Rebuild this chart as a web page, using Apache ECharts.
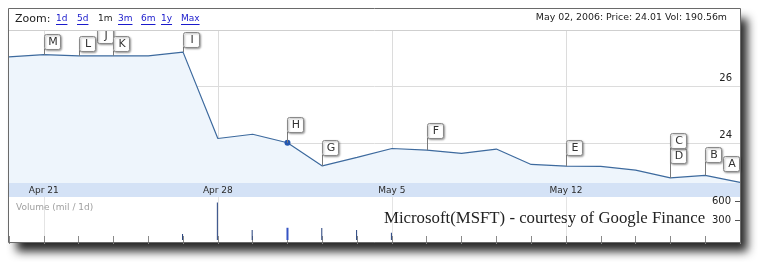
<!DOCTYPE html>
<html><head><meta charset="utf-8">
<script src="https://cdn.jsdelivr.net/npm/echarts@6/dist/echarts.min.js"></script>
<style>html,body{margin:0;padding:0;background:#fff;}#c{width:766px;height:268px;}</style>
</head><body><div id="c"></div>
<script>
// ---- data ----
const dates = ['2006-04-20','2006-04-21','2006-04-24','2006-04-25','2006-04-26','2006-04-27','2006-04-28',
  '2006-05-01','2006-05-02','2006-05-03','2006-05-04','2006-05-05','2006-05-08','2006-05-09','2006-05-10',
  '2006-05-11','2006-05-12','2006-05-15','2006-05-16','2006-05-17','2006-05-18','2006-05-19'];
const prices = [27.02,27.10,27.06,27.06,27.06,27.19,24.16,24.31,24.01,23.20,23.50,23.81,23.75,23.64,23.79,
  23.25,23.19,23.18,23.05,22.78,22.87,22.62];
const volumes = [null,null,null,null,null,94,583,156,190.56,187,156,114,null,null,null,null,null,null,null,null,null,null];
const priceTicks = [24, 26];
const volumeTicks = [300, 600];
const xLabelDays = ['Apr 21','Apr 28','May 5','May 12'];
const flagLetters = ['M','J','L','K','I','H','G','F','E','D','C','B','A'];
const flagDays    = [1,  2,  2,  3,  5,  8,  9,  12, 16, 19, 19, 20, 21];
const selectedDay = 8;
const zoomOptions = ['1d','5d','1m','3m','6m','1y','Max'];
const activeZoom = '1m';
const monthNames = ['Jan','Feb','Mar','Apr','May','Jun','Jul','Aug','Sep','Oct','Nov','Dec'];

// ---- layout / style (not data) ----
const flagLayout = {M:{stem:6},J:{stem:13,dx:18},L:{stem:5},K:{stem:5},I:{stem:5},H:{stem:11},G:{stem:11},
  F:{stem:12},E:{stem:11},D:{stem:15},C:{stem:30},B:{stem:13},A:{stem:11,dx:-17}};
const zoomX = [56,77,98,118,141,161,181];

const cats = dates.map(d => { const p = d.split('-'); return monthNames[+p[1]-1] + ' ' + (+p[2]); });
const sel = dates[selectedDay].split('-');
const headerText = monthNames[+sel[1]-1] + ' ' + sel[2] + ', ' + sel[0] + ': Price: ' + prices[selectedDay].toFixed(2) +
  ' Vol: ' + volumes[selectedDay].toFixed(2) + 'm';

const LEFT = 9, RIGHT = 26;
const weekly = (i) => xLabelDays.indexOf(cats[i]) >= 0;

const ctx = document.createElement('canvas').getContext('2d');
ctx.font = '9px "DejaVu Sans"';

const graphics = [
  {type:'rect', z:-5, shape:{x:8.5,y:8.5,width:732,height:234}, style:{fill:'#fff',shadowBlur:9,shadowOffsetX:7,shadowOffsetY:9,shadowColor:'rgba(0,0,0,0.85)'}},
  {type:'rect', z:100, shape:{x:9,y:9,width:731,height:21}, style:{fill:'#fff'}},
  {type:'line', z:100, shape:{x1:9,y1:30.5,x2:740,y2:30.5}, style:{stroke:'#cfcfcf',lineWidth:1}},
  {type:'text', z:101, style:{text:'Zoom:', x:15, y:19, font:'11px "DejaVu Sans"', fill:'#222', textVerticalAlign:'middle'}},
  {type:'text', z:101, style:{text:headerText, x:727, y:18, font:'9.4px "DejaVu Sans"', fill:'#222', textAlign:'right', textVerticalAlign:'middle'}},
  {type:'text', z:101, style:{text:'Volume (mil / 1d)', x:16, y:208, font:'9px "DejaVu Sans"', fill:'#a0a0a0', textVerticalAlign:'middle'}},
  {type:'text', z:101, style:{text:'Microsoft(MSFT) - courtesy of Google Finance', x:384, y:219, font:'16.8px "Liberation Serif"', fill:'#222', textVerticalAlign:'middle'}},
  {type:'rect', z:102, shape:{x:8.5,y:8.5,width:732,height:234}, style:{fill:'none',stroke:'#6a6a6a',lineWidth:1}}
];
zoomOptions.forEach((z, i) => {
  const active = z === activeZoom;
  graphics.push({type:'text', z:101, style:{text:z, x:zoomX[i], y:19, font:'9px "DejaVu Sans"', fill: active ? '#222' : '#1a1acc', textVerticalAlign:'middle'}});
  if (!active) {
    const w = ctx.measureText(z).width;
    graphics.push({type:'line', z:101, shape:{x1:zoomX[i], y1:24.5, x2:zoomX[i]+w, y2:24.5}, style:{stroke:'#1a1acc', lineWidth:1}});
  }
});

const chart = echarts.init(document.getElementById('c'), null, {renderer:'canvas'});
chart.setOption({
  animation:false,
  backgroundColor:'#fff',
  grid:[
    {left:LEFT, right:RIGHT, top:30, height:153},
    {left:LEFT, right:RIGHT, top:183, height:14, show:true, backgroundColor:'#d4e2f6', borderWidth:0},
    {left:LEFT, right:RIGHT, top:197, height:43}
  ],
  xAxis:[
    {gridIndex:0, type:'category', data:cats, boundaryGap:false,
      axisLine:{show:false},
      axisTick:{show:true, inside:true, length:3, interval:0, lineStyle:{color:'#8a8a8a'}},
      axisLabel:{show:true, interval:(i)=>weekly(i), margin:3, fontSize:9, fontFamily:'DejaVu Sans', color:'#2a2a2a'},
      splitLine:{show:true, interval:(i)=>weekly(i), lineStyle:{color:'#dcdcdc'}}},
    {gridIndex:1, type:'category', data:cats, boundaryGap:false, show:false},
    {gridIndex:2, type:'category', data:cats, boundaryGap:false, position:'top',
      axisLine:{show:false}, axisLabel:{show:false},
      axisTick:{show:true, inside:true, length:4, interval:0, lineStyle:{color:'#8a8a8a'}},
      splitLine:{show:true, interval:(i)=>weekly(i), lineStyle:{color:'#e4e4e4'}}},
    {gridIndex:2, type:'category', data:cats, boundaryGap:false, position:'bottom',
      axisLine:{show:false}, axisLabel:{show:false},
      axisTick:{show:true, inside:true, length:4, interval:0, lineStyle:{color:'#8a8a8a'}},
      splitLine:{show:false}}
  ],
  yAxis:[
    {gridIndex:0, type:'value', position:'right', min:22.6, max:27.965, scale:true,
      axisLine:{show:false},
      axisTick:{show:false, customValues:priceTicks},
      axisLabel:{show:true, customValues:priceTicks, inside:true, margin:8, verticalAlign:'bottom', padding:[0,0,3,0],
        fontSize:10, fontFamily:'DejaVu Sans', color:'#222'},
      splitLine:{show:true, lineStyle:{color:'#dcdcdc'}}},
    {gridIndex:1, type:'value', show:false},
    {gridIndex:2, type:'value', position:'right', min:0, max:670,
      axisLine:{show:false},
      axisTick:{show:true, inside:true, length:5, customValues:volumeTicks, lineStyle:{color:'#555'}},
      axisLabel:{show:true, customValues:volumeTicks, inside:true, margin:9, fontSize:10, fontFamily:'DejaVu Sans', color:'#222'},
      splitLine:{show:false}}
  ],
  series:[
    {type:'line', xAxisIndex:0, yAxisIndex:0, z:2,
      data: prices.map((v,i)=> i===selectedDay ? {value:v, symbol:'circle', symbolSize:6, itemStyle:{color:'#2457b0'}} : {value:v, symbol:'none'}),
      showSymbol:true, showAllSymbol:true, symbol:'none',
      lineStyle:{color:'#3d6a9e', width:1.2},
      areaStyle:{color:'#eef5fc', origin:'start', opacity:1}},
    {type:'custom', xAxisIndex:0, yAxisIndex:0, z:5, clip:false,
      data: flagDays.map(d => [d, prices[d]]),
      renderItem:(params, api) => {
        const letter = flagLetters[params.dataIndex];
        const p = api.coord([api.value(0), api.value(1)]);
        const L = flagLayout[letter];
        const bw = 16, bh = 15;
        const bottom = Math.round(p[1] - L.stem);
        const x = Math.round(p[0]);
        const bx = x + (L.dx || 0);
        return {type:'group', children:[
          {type:'line', shape:{x1:x+0.5, y1:p[1], x2:x+0.5, y2:bottom}, style:{stroke:'#7a7a7a', lineWidth:1}},
          {type:'rect', shape:{x:bx+0.5, y:bottom-bh+0.5, width:bw, height:bh, r:2},
            style:{fill:'#fff', stroke:'#8a8a8a', lineWidth:1, shadowBlur:2, shadowOffsetX:1, shadowOffsetY:1, shadowColor:'rgba(0,0,0,0.35)'}},
          {type:'text', style:{text:letter, x:bx+bw/2+1, y:bottom-bh/2+1, textAlign:'center', textVerticalAlign:'middle',
            font:'11px "DejaVu Sans"', fill:'#333'}}
        ]};
      }},
    {type:'bar', xAxisIndex:3, yAxisIndex:2, barWidth:1, itemStyle:{color:'#23407c'},
      data: volumes.map((v,i)=> i===selectedDay ? null : v)},
    {type:'bar', xAxisIndex:3, yAxisIndex:2, barWidth:2, barGap:'-100%', itemStyle:{color:'#3553c4'},
      data: volumes.map((v,i)=> i===selectedDay ? v : null)}
  ],
  graphic: graphics
});
</script></body></html>
